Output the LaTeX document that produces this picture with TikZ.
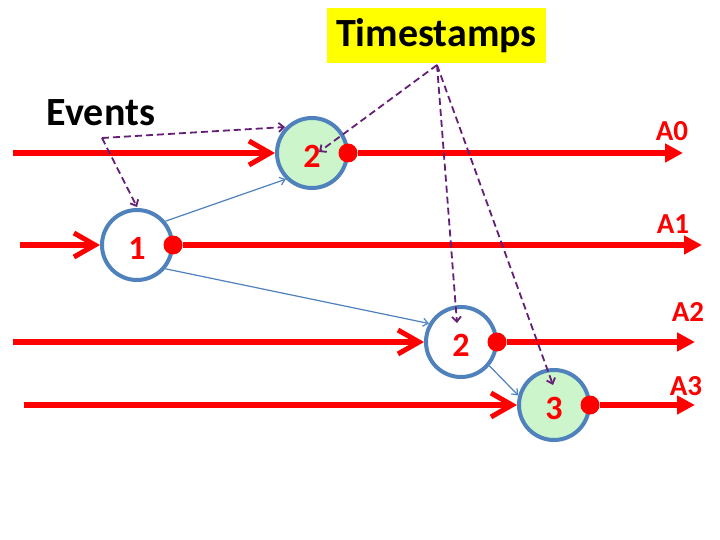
\documentclass[tikz,border=0pt]{standalone}
\usepackage{fontspec}
\setmainfont{Carlito}
\usetikzlibrary{arrows.meta}
\definecolor{evred}{RGB}{255,0,0}
\definecolor{evblue}{RGB}{79,129,189}
\definecolor{evgreen}{RGB}{204,245,204}
\definecolor{evpurple}{RGB}{100,30,120}
\definecolor{evyellow}{RGB}{255,255,0}
\begin{document}
\begin{tikzpicture}[x=1pt,y=-1pt,
  event/.style={circle, draw=evblue, line width=4pt, minimum size=70pt, inner sep=0pt,
    font=\fontsize{34}{34}\selectfont\bfseries, text=evred, text height=29pt, text depth=0pt},
  dot/.style={circle, fill=evred, minimum size=19pt, inner sep=0pt},
  tline/.style={draw=evred, line width=6pt},
  inarrow/.style={tline, -{Straight Barb[length=21pt,width=24pt,line width=5pt]}},
  outarrow/.style={tline, -{Triangle[length=18pt,width=18pt]}},
  msg/.style={draw=evblue, line width=1.2pt, -{Straight Barb[length=5pt,width=8pt]}},
  note/.style={draw=evpurple, line width=1.8pt, dash pattern=on 7pt off 4pt,
    -{Straight Barb[length=5pt,width=9pt]}},
  axlabel/.style={font=\fontsize{29}{29}\selectfont\bfseries, text=evred, inner sep=0pt},
  title/.style={font=\fontsize{40}{40}\selectfont\bfseries, text=black}
]
\useasboundingbox[fill=white] (0,0) rectangle (720,540);

% event circles
\node[event, fill=evgreen] (e2) at (312,153) {2};
\node[event, fill=white]   (e1) at (137,245) {1};
\node[event, fill=white]   (c2) at (461,342) {2};
\node[event, fill=evgreen] (e3) at (554,405) {3};

% red dots
\node[dot] (d0) at ([xshift=-1pt]e2.east) {};
\node[dot] (d1) at ([xshift=-1pt]e1.east) {};
\node[dot] (d2) at ([xshift=-1pt]c2.east) {};
\node[dot] (d3) at ([xshift=-1pt]e3.east) {};

% line end points
\coordinate (s0) at (13,153);
\coordinate (s1) at (20,245);
\coordinate (s2) at (13,342);
\coordinate (s3) at (24,405);
\coordinate (t0) at (683,153);
\coordinate (t1) at (702,245);
\coordinate (t2) at (695,342);
\coordinate (t3) at (695,405);

% time lines
\draw[inarrow] (s0) -- (e2);
\draw[inarrow] (s1) -- (e1);
\draw[inarrow] (s2) -- (c2);
\draw[inarrow] (s3) -- (e3);
\draw[outarrow] (d0) -- (t0);
\draw[outarrow] (d1) -- (t1);
\draw[outarrow] (d2) -- (t2);
\draw[outarrow] (d3) -- (t3);

% axis labels
\node[axlabel] (l0) at (672,131) {A0};
\node[axlabel] (l1) at (673,224) {A1};
\node[axlabel] (l2) at (688,312) {A2};
\node[axlabel] (l3) at (686,386) {A3};

% messages
\draw[msg] (e1.40) -- (e2.225);
\draw[msg] (e1.-40) -- (c2.150);
\draw[msg] (c2.-40) -- (e3.165);

% notes
\node[title] (ev) at (101,113) {Events};
\node[title, fill=evyellow, minimum width=219pt, minimum height=55pt, inner sep=0pt] (ts) at (436.5,35.5) {Timestamps};

\coordinate (evp) at (102,138);
\coordinate (tsp) at (437,65);
\coordinate (n1) at (137,207);
\coordinate (n2) at (285,127);
\coordinate (n3) at (319,152);
\coordinate (n4) at (457,323);
\coordinate (n5) at (553,385);

\draw[note] (evp) -- (n1);
\draw[note] (evp) -- (n2);
\draw[note] (tsp) -- (n3);
\draw[note] (tsp) -- (n4);
\draw[note] (tsp) -- (n5);
\end{tikzpicture}
\end{document}
